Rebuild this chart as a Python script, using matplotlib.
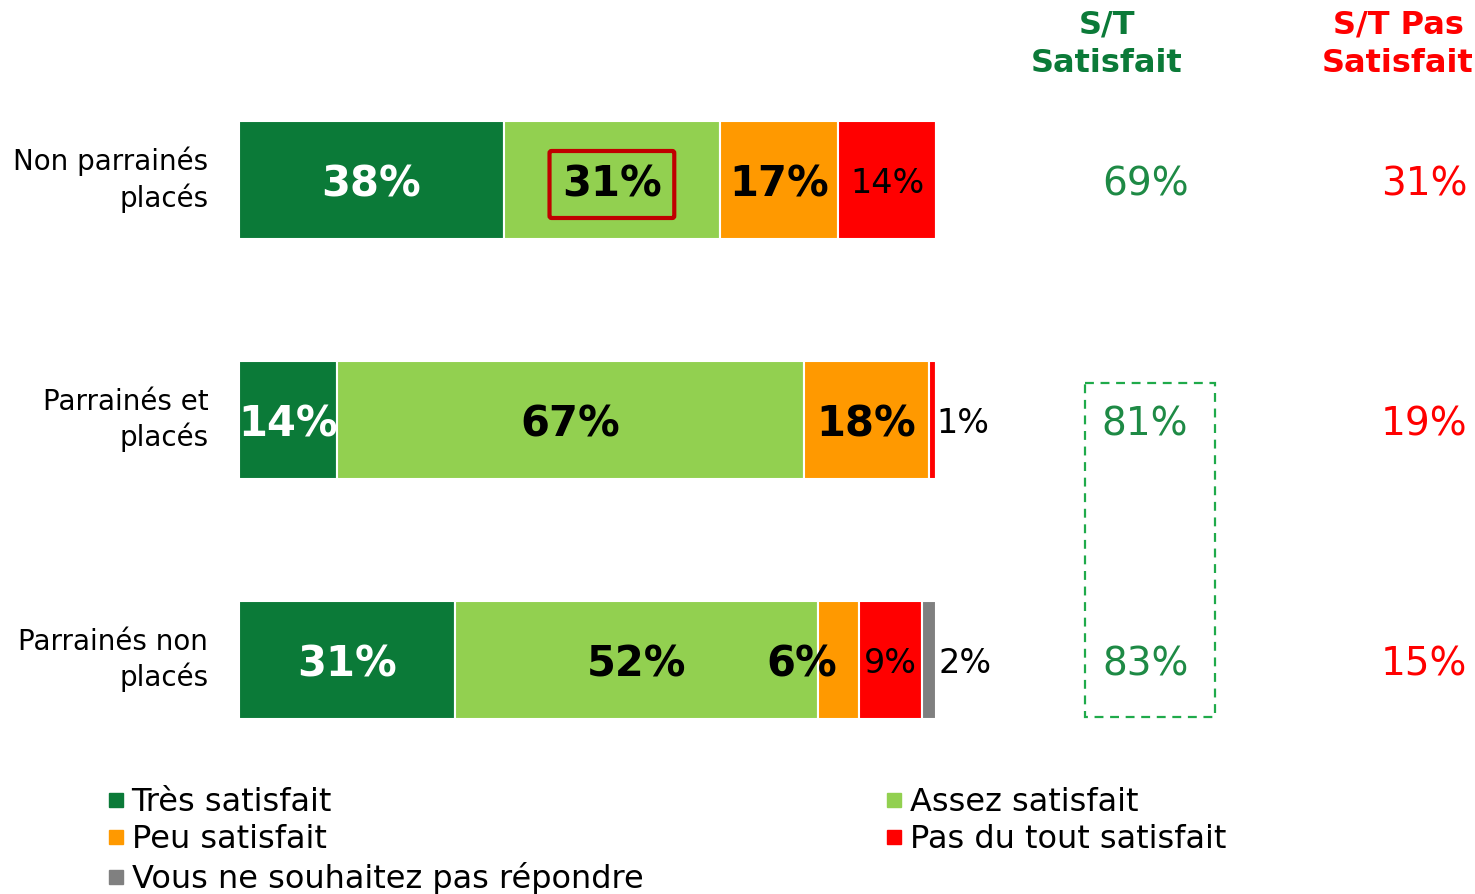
import numpy as np
import matplotlib.pyplot as plt
from matplotlib.patches import Rectangle
from matplotlib.lines import Line2D

# données
groupes = ["Non parrainés\nplacés", "Parrainés et\nplacés", "Parrainés non\nplacés"]
modalites = ["Très satisfait", "Assez satisfait", "Peu satisfait",
             "Pas du tout satisfait", "Vous ne souhaitez pas répondre"]
tres = [38, 14, 31]
assez = [31, 67, 52]
peu = [17, 18, 6]
pas_du_tout = [14, 1, 9]
nsp = [0, 0, 2]
st_satisfait = [69, 81, 83]
st_pas_satisfait = [31, 19, 15]

couleurs = ["#0b7a38", "#92d050", "#ff9900", "#ff0000", "#808080"]
vert_txt = "#1e8a45"

W, H = 1475, 894
fig = plt.figure(figsize=(W / 100, H / 100), dpi=100)
# axe : x=0 au pixel 239, x=100 au pixel 936 ; lignes centrées à 180/420/660 px
ax = fig.add_axes([239 / W, 1 - 780 / H, 697 / W, 720 / H])
ax.set_xlim(0, 100)
ax.set_ylim(2.5, -0.5)
ax.axis("off")

series = [tres, assez, peu, pas_du_tout, nsp]
y = np.arange(len(groupes))
gauche = np.zeros(len(groupes))
for vals, c, lab in zip(series, couleurs, modalites):
    vals = np.array(vals, dtype=float)
    ax.barh(y, vals, left=gauche, height=0.49, color=c,
            edgecolor="white", linewidth=1.5, label=lab)
    gauche = gauche + vals

# étiquettes dans les barres
def etiquette(i, s, texte, **kw):
    cum = np.cumsum([serie[i] for serie in series])
    debut = cum[s] - series[s][i]
    milieu = (debut + cum[s]) / 2
    return ax.text(milieu, i, texte, va="center_baseline", **kw)

gras = dict(fontsize=30, fontweight="bold")
normal = dict(fontsize=24)

# ligne 1
etiquette(0, 0, "38%", ha="center", color="white", **gras)
etiquette(0, 1, "31%", ha="center", color="black",
          bbox=dict(boxstyle="round,pad=0.3,rounding_size=0.05",
                    facecolor="none", edgecolor="#c00000", linewidth=3), **gras)
etiquette(0, 2, "17%", ha="center", color="black", **gras)
etiquette(0, 3, "14%", ha="center", color="black", **normal)
# ligne 2
etiquette(1, 0, "14%", ha="center", color="white", **gras)
etiquette(1, 1, "67%", ha="center", color="black", **gras)
etiquette(1, 2, "18%", ha="center", color="black", **gras)
ax.text(sum(s[1] for s in series[:4]) + 0.1, 1, "1%", ha="left",
        va="center_baseline", color="black", clip_on=False, **normal)
# ligne 3
etiquette(2, 0, "31%", ha="center", color="white", **gras)
etiquette(2, 1, "52%", ha="center", color="black", **gras)
t = etiquette(2, 2, "6%", ha="right", color="black", **gras)
t.set_x(t.get_position()[0] - 0.2)
etiquette(2, 3, "9%", ha="center", color="black", **normal)
ax.text(sum(s[2] for s in series) + 0.4, 2, "2%", ha="left",
        va="center_baseline", color="black", clip_on=False, **normal)

# libellés des groupes
for i, g in enumerate(groupes):
    ax.text(-4.4, i, g, ha="right", va="center", fontsize=20,
            multialignment="right", linespacing=1.3, clip_on=False)

# colonnes de synthèse
for i in range(len(groupes)):
    ax.text(130, i, f"{st_satisfait[i]}%", ha="center", va="center_baseline",
            fontsize=28, color=vert_txt, clip_on=False)
    ax.text(170, i, f"{st_pas_satisfait[i]}%", ha="center", va="center_baseline",
            fontsize=28, color="#ff0000", clip_on=False)

fig.text(1107 / W, 1 - 44 / H, "S/T\nSatisfait", ha="center", va="center",
         fontsize=23, fontweight="bold", color="#0b7a38", linespacing=1.3)
fig.text(1398 / W, 1 - 44 / H, "S/T Pas\nSatisfait", ha="center", va="center",
         fontsize=23, fontweight="bold", color="#ff0000", linespacing=1.3)

# cadre pointillé autour de 81% / 83%
ax.add_patch(Rectangle((121.4, 0.846), 18.6, 1.39, fill=False,
                       edgecolor="#1faa4a", linestyle=(0, (4, 3)),
                       linewidth=1.6, clip_on=False))

# légende en deux colonnes
def poignee(c):
    return Line2D([], [], marker="s", linestyle="none", markersize=10,
                  markerfacecolor=c, markeredgecolor=c)

leg_opts = dict(frameon=False, fontsize=23, handletextpad=0.2,
                labelspacing=0.2, borderaxespad=0, borderpad=0,
                handlelength=0.6)
fig.legend([poignee(couleurs[0]), poignee(couleurs[2]), poignee(couleurs[4])],
           [modalites[0], modalites[2], modalites[4]],
           loc="upper left", bbox_to_anchor=(106 / W, 1 - 787 / H), **leg_opts)
fig.legend([poignee(couleurs[1]), poignee(couleurs[3])],
           [modalites[1], modalites[3]],
           loc="upper left", bbox_to_anchor=(884 / W, 1 - 787 / H), **leg_opts)

fig.savefig("out.png", dpi=100)
